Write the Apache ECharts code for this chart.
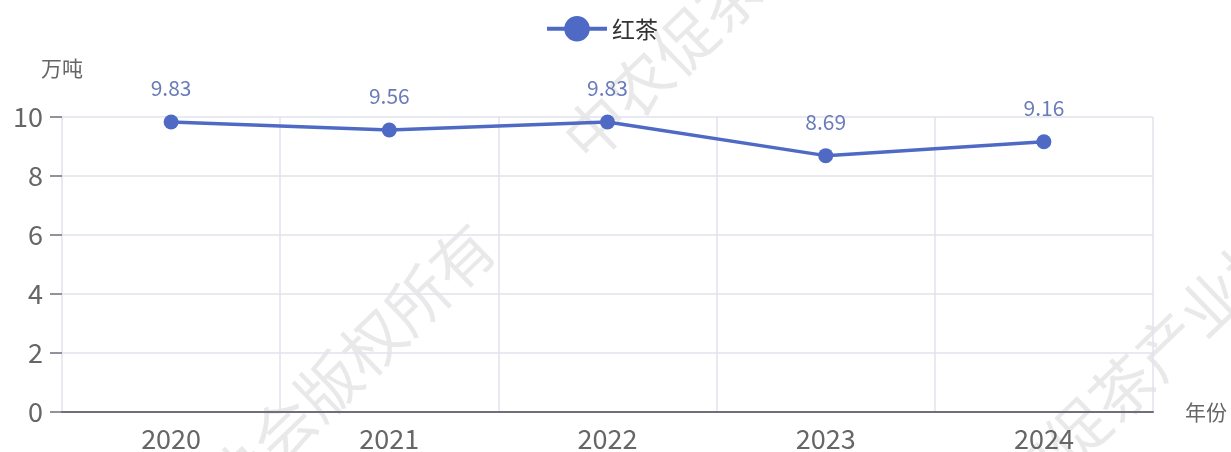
<!DOCTYPE html>
<html>
<head>
<meta charset="utf-8">
<script src="https://cdn.jsdelivr.net/npm/echarts@6/dist/echarts.min.js"></script>
<style>
  html, body { margin: 0; padding: 0; background: #fff; }
  #main { width: 1231px; height: 452px; }
</style>
</head>
<body>
<div id="main"></div>
<script>
  var years = ['2020', '2021', '2022', '2023', '2024'];
  var blackTea = [9.83, 9.56, 9.83, 8.69, 9.16];
  var seriesName = '红茶';
  var watermark = '中农促茶产业协会版权所有\u3000\u3000中农促茶产业协会版权所有';

  var myChart = echarts.init(document.getElementById('main'));
  var font = '"Microsoft YaHei", "Noto Sans CJK SC", "Open Sans", sans-serif';
  var angle = 44 * Math.PI / 180;

  // faint diagonal watermark behind the plot
  function wm(x, y) {
    return {
      type: 'text', x: x, y: y, rotation: angle, silent: true, z: -10,
      style: { text: watermark, fontSize: 62, fill: 'rgba(0,0,0,0.085)', fontFamily: font, verticalAlign: 'middle' }
    };
  }

  var options = {
    animation: false,
    textStyle: { fontFamily: font },
    graphic: [wm(-51, 752), wm(966, 539)],
    legend: {
      top: 11,
      left: 540,
      itemWidth: 60,
      itemHeight: 32,
      itemGap: 10,
      lineStyle: { width: 4 },
      textStyle: { fontSize: 23, color: '#333' },
      data: [seriesName]
    },
    grid: { left: 62, right: 78, top: 117, bottom: 40 },
    xAxis: {
      type: 'category',
      data: years,
      name: '年份',
      nameGap: 32,
      nameTextStyle: { fontSize: 21, color: '#666' },
      axisLine: { lineStyle: { color: '#6e7079', width: 2 } },
      axisTick: { length: 8, lineStyle: { width: 2 } },
      axisLabel: { fontSize: 27, color: '#666', margin: 13 },
      splitLine: { show: true, lineStyle: { color: '#e0e2ec', width: 1.5 } }
    },
    yAxis: {
      type: 'value',
      min: 0,
      max: 10,
      interval: 2,
      name: '万吨',
      nameGap: 38,
      nameTextStyle: { fontSize: 21, color: '#666', align: 'center' },
      axisLine: { show: false },
      axisTick: { show: true, length: 12, lineStyle: { color: '#6e7079', width: 1.5 } },
      axisLabel: { fontSize: 27, color: '#666', margin: 19 },
      splitLine: { lineStyle: { color: '#e0e2ec', width: 1.5 } }
    },
    series: [{
      name: seriesName,
      type: 'line',
      data: blackTea,
      symbol: 'circle',
      symbolSize: 15,
      itemStyle: { color: '#4e6ac4' },
      lineStyle: { width: 3.5, color: '#4e6ac4' },
      label: {
        show: true,
        position: 'top',
        distance: 16,
        fontSize: 21,
        color: '#6a7bbb'
      }
    }]
  };

  myChart.setOption(options);
</script>
</body>
</html>
